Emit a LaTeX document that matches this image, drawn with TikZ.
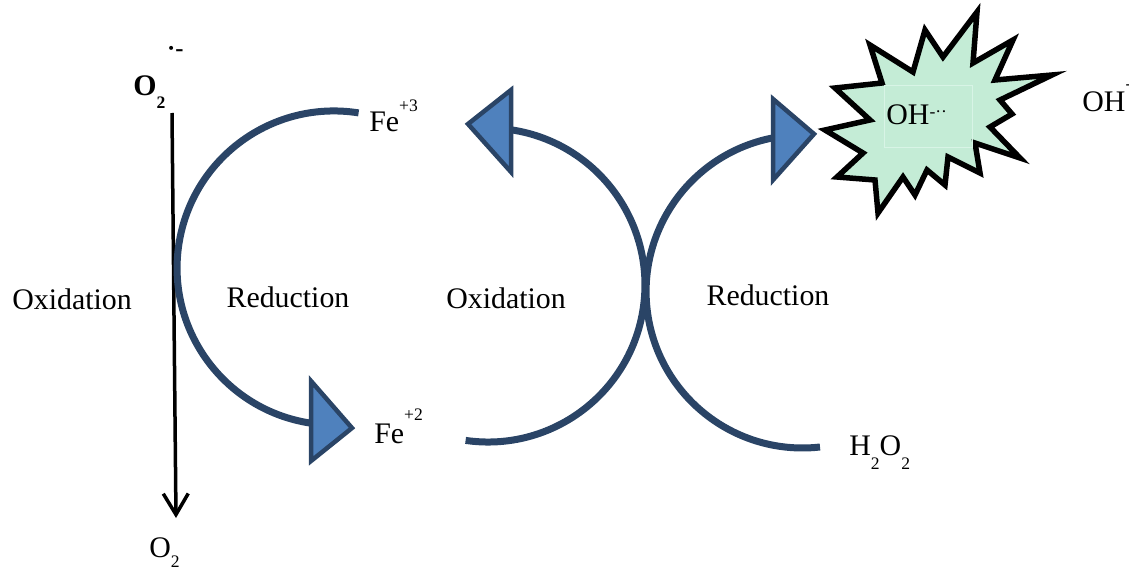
\documentclass[tikz,border=0pt]{standalone}
\usepackage{fontspec}
\setmainfont{Liberation Serif}
\usetikzlibrary{arrows.meta}

\definecolor{cycblue}{HTML}{2A4466}
\definecolor{tipblue}{HTML}{4F81BD}
\definecolor{burstgreen}{HTML}{C4ECD6}
\definecolor{boxline}{HTML}{D8F4E6}

\newcommand{\hisup}[2][11pt]{\raisebox{#1}{\fontsize{10}{10}\selectfont #2}}
\newcommand{\losub}[2][7pt]{\raisebox{-#1}{\fontsize{10}{10}\selectfont #2}}

\begin{document}
\begin{tikzpicture}[x=0.02cm, y=0.02cm,
  lbl/.style={inner sep=0pt, font=\fontsize{17}{20}\selectfont},
  cyc/.style={cycblue, line width=0.14cm},
  tiptri/.style={cycblue, line width=0.09cm, fill=tipblue, line join=miter}]
  \useasboundingbox (0,0) rectangle (1129,-571);

  % species
  \node[lbl, anchor=base west] (o2r) at (133,-95) {\textbf{O\losub[7.4pt]{2}\kern1pt\raisebox{22pt}{\fontsize{14}{14}\selectfont ·-}}};
  \node[lbl, anchor=base west] (o2) at (149,-557) {O\losub[6pt]{2}};
  \node[lbl, anchor=base west] (fe3) at (369,-132) {Fe\hisup[11.4pt]{+3}};
  \node[lbl, anchor=base west] (fe2) at (374,-443) {Fe\hisup[13pt]{+2}};
  \node[lbl, anchor=base west] (h2o2) at (849,-455) {H\losub[8.5pt]{2}O\losub[8.5pt]{2}};
  \node[lbl, anchor=base west] (oh) at (1082,-112) {OH\hisup[13pt]{-}};

  % Prozesse
  \node[lbl, anchor=base] (ox1) at (72,-309) {Oxidation};
  \node[lbl, anchor=base] (red1) at (288,-307) {Reduction};
  \node[lbl, anchor=base] (ox2) at (506,-308) {Oxidation};
  \node[lbl, anchor=base] (red2) at (768,-305) {Reduction};

  % superoxide arrow
  \coordinate (o2top) at (172,-113);
  \coordinate (o2bot) at (176,-518);
  \draw[line width=0.07cm, -{Straight Barb[length=0.42cm, width=0.5cm, line width=0.07cm]}] (o2top) -- (o2bot);

  % cycles
  \coordinate (lefttop) at (358.6,-112.9);
  \coordinate (leftend) at (311,-421);
  \draw[cyc] (lefttop) arc[start angle=81, end angle=261, radius=3.14cm] -- (leftend);
  \draw[tiptri] (311,-381) -- (352,-428) -- (311,-461) -- cycle;

  \coordinate (midbot) at (465.6,-440.4);
  \coordinate (midend) at (511,-130);
  \draw[cyc] (midbot) arc[start angle=-98.2, end angle=81.2, radius=3.14cm] -- (midend);
  \draw[tiptri] (511,-90) -- (468,-124) -- (511,-172) -- cycle;

  \coordinate (rightbot) at (820,-447);
  \coordinate (rightend) at (773,-138);
  \draw[cyc] (rightbot) arc[start angle=276.4, end angle=101.2, radius=3.13cm] -- (rightend);
  \draw[tiptri] (773,-99) -- (814,-134) -- (773,-180) -- cycle;

  % burst
  \draw[line width=0.11cm, fill=burstgreen]
    (835,-88) -- (882,-83) -- (870,-45) -- (913,-72) -- (925,-30) -- (943,-57)
    -- (977,-12) -- (973,-63) -- (1013,-40) -- (995,-80) -- (1052,-75)
    -- (1000,-100) -- (1012,-114) -- (990,-127) -- (1020,-158) -- (975,-143)
    -- (980,-173) -- (948,-157) -- (945,-185) -- (927,-170) -- (915,-195)
    -- (903,-177) -- (878,-213) -- (875,-180) -- (837,-177) -- (863,-153)
    -- (825,-130) -- (870,-120) -- cycle;
  \draw[boxline, line width=0.5pt] (884,-85) rectangle (972,-147);
  \node[lbl, anchor=base west] (ohr) at (886,-125) {OH\hisup[4pt]{-··}};

\end{tikzpicture}
\end{document}
